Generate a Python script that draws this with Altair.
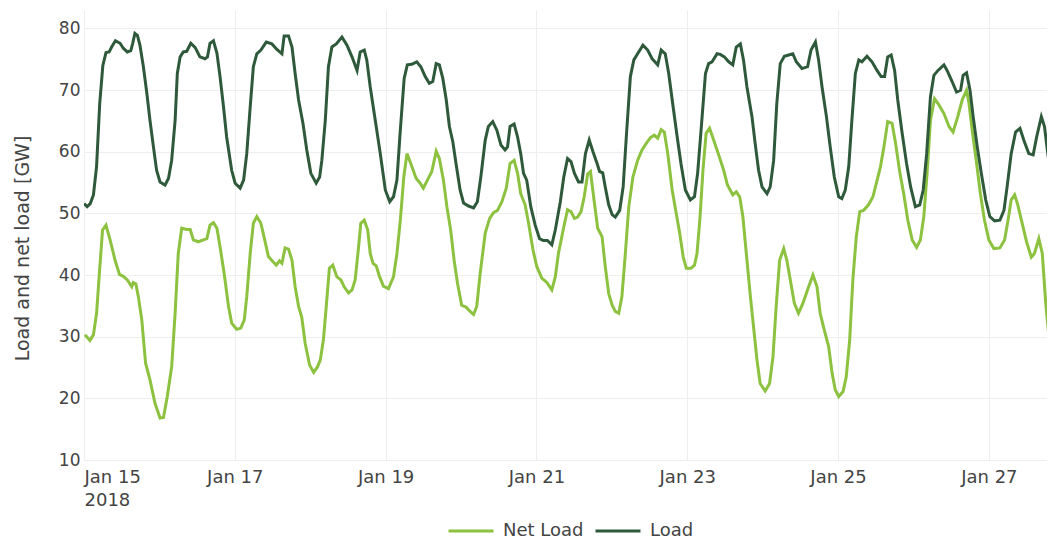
import altair as alt
import pandas as pd

# Hours since 2018-01-15 00:00 (UTC) and values in GW
load_hours = [0, 1, 2, 3, 4, 5, 6, 7, 8, 8.8, 10, 11.5, 12.5, 13.8, 14.9, 15.5, 16.2, 17, 17.8, 18.9,
              20, 21, 22.1, 23.1, 24.2, 25.8, 26.9, 27.9, 29, 29.7, 30.6, 31.6, 32.7, 34, 35.4, 36.9,
              38.5, 39.3, 40.1, 41.2, 42.3, 43.3, 44.4, 45.4, 47, 48.1,
              49.7, 50.8, 51.8, 52.9, 53.9, 55, 56.3, 58, 59.8, 61.4, 63, 63.7, 65.1, 66.2, 67.2, 68.3,
              69.7, 70.9, 72.2, 73.9, 75, 75.7, 76.8, 77.8, 78.9, 80.3, 82.1, 83.7, 85.3, 86.9, 87.9,
              89.2, 90, 91.1, 92.7, 94.3, 95.9, 97.3, 98.5, 99.6,
              100.6, 101.9, 102.9, 104.3, 105.9, 107.2, 108.6, 109.9, 111, 112.1, 113.1, 114.2, 115.3,
              116.3, 117.4, 118.4, 119.7, 120.8, 122.4, 124, 125.2, 126.3, 127.7, 128.7, 130.1, 131.4,
              132.7, 134, 134.8, 135.6, 136.9, 138, 139, 139.9, 140.9, 142.2, 143.6, 145, 146.2, 147.5,
              148.9, 150,
              151.6, 152.7, 153.9, 155, 156.1, 157.4, 158.5, 159.6, 160.8, 162, 163.3, 164.1, 165.1,
              165.9, 167, 168.1, 169.1, 170.5, 171.6, 172.6, 173.9, 175, 176.2, 177.9, 179.4, 180.8,
              182.6, 183.7, 185, 186.1, 187.5, 188.8, 190, 191.4, 193, 194.3, 195.3, 196.4, 197.8,
              198.8, 199.9, 201.5,
              202.5, 203.8, 205.2, 206.5, 207.6, 208.9, 209.9, 211, 212.6, 213.6, 214.7, 215.8, 217.4,
              218.4, 219.5, 220.5, 221.6, 222.9, 224.3, 225.6, 226.7, 228.5, 230.3, 231.4, 232.8,
              233.8, 234.9, 236.3, 237.5, 238.8, 240.2, 241.2, 242.3, 243.4, 244.4, 245.5, 246.6,
              247.6, 249.2, 250.8, 252.4,
              253.7, 254.8, 255.8, 256.9, 258, 259, 260.4, 261.8, 263.1, 264.6, 266, 267.1, 268.2,
              269.4, 270.5, 271.8, 273.7, 274.7, 276.3, 277.7, 279, 279.8, 280.9, 282, 283, 284.3,
              285.6, 287, 288.3, 289.8, 291.5, 292.8, 293.8, 295.1, 296.5, 297.9, 299.1, 300.7, 302.1,
              303.2, 304.7, 305.7, 306.6, 307.6, 309.2]
load_values = [51.6, 51.1, 51.6, 53, 57.6, 67.8, 74, 76.1, 76.2, 77, 78, 77.6, 76.8, 76.2, 76.4, 77.6,
               79.2, 78.9, 77.3, 73.8, 69.5, 65.1, 60.8, 57, 55.1, 54.6, 55.7, 58.6, 65.1, 72.7, 75.4,
               76.2, 76.3, 77.6, 76.9, 75.4, 75.1, 75.4, 77.6, 78, 76, 72.2, 67.3, 62.4, 57, 54.9,
               54.1, 55.4, 59.7, 67.3, 73.8, 75.9, 76.5, 77.8, 77.5, 76.6, 75.9, 78.8, 78.8, 77, 72.7,
               68.4, 64.6, 60.3, 56.5, 54.9, 55.9, 58.6, 65.1, 73.8, 77, 77.5, 78.6, 77.3, 75.4, 73.2,
               76.2, 76.5, 74.9, 70.5, 65.1, 59.7, 53.8, 51.9, 52.7, 55.4,
               63, 71.9, 74.1, 74.2, 74.6, 73.8, 72.2, 71.1, 71.4, 74.3, 74.1, 71.9, 68.4, 64.1, 61.6,
               58.1, 53.8, 51.7, 51.2, 50.9, 51.9, 55.9, 61.9, 64.1, 64.9, 63.5, 61.1, 60.3, 60.8,
               64.1, 64.5, 62.4, 59.7, 56.5, 55.4, 51.1, 48.1, 45.9, 45.6, 45.6, 44.9, 47.3,
               51.9, 55.9, 58.9, 58.4, 56.5, 55.1, 55.1, 59.7, 61.9, 60, 58.1, 56.8, 56.6, 54.3, 51.4,
               49.8, 49.4, 50.5, 54.3, 62.4, 72.2, 74.9, 75.9, 77.3, 76.5, 75.1, 74.1, 76.5, 75.9,
               72.7, 67.3, 62.4, 58.1, 53.8, 52.2, 52.7, 56.5, 63.5, 72.7, 74.3, 74.6, 75.9,
               75.8, 75.4, 74.6, 74.1, 77, 77.5, 74.9, 70.5, 65.7, 61.4, 57, 54.3, 53.2, 54.3, 58.6,
               67.8, 74.3, 75.5, 75.7, 75.9, 74.6, 73.5, 73.8, 76.5, 77.8, 74.9, 70.5, 65.7, 60.8,
               55.9, 52.7, 52.4, 53.8, 57.6, 65.1, 72.7, 74.9, 74.6, 75.5, 74.6, 73.2,
               72.2, 72.2, 75.4, 75.7, 73.2, 68.4, 63, 58.1, 54.3, 51.1, 51.4, 53.8, 59.7, 68.9, 72.4,
               73.2, 74.1, 73.2, 71.4, 69.7, 70, 72.4, 72.8, 70, 65.7, 60.8, 56.5, 52.2, 49.5, 48.8,
               48.9, 50.5, 54.3, 59.7, 63.2, 63.8, 61.9, 59.7, 59.5, 62.4, 65.7, 64.1, 60.3, 56.5, 54.3]

net_hours = [0.3, 1.9, 3, 4, 4.9, 5.9, 7, 8.3, 9.9, 11.3, 12.5, 13.8, 15.2, 15.7, 16.5, 17.3, 18.4,
             19.6, 21, 22.6, 24.2, 25.3, 26.5, 27.9, 29, 30, 31.1, 32.7, 33.8, 34.8, 36.4, 38, 39.1,
             40.1, 41.2, 42.3, 43.3, 44.6, 46, 47, 48.6,
             49.9, 51, 51.8, 52.9, 53.9, 55, 56.3, 57.3, 58.7, 60.1, 61.2, 62.2, 63, 64, 65.1, 66.2,
             67.2, 68.3, 69.3, 70.4, 71.8, 73.1, 74.3, 75.2, 76.2, 77.1, 78.1, 79.2, 80.5, 81.8, 82.8,
             84.2, 85.3, 86.3, 87.4, 88.1, 89.2, 90.3, 91.1, 92, 93, 94.1, 95.3, 96.9, 98.5, 99.6,
             100.7, 101.8, 102.8, 104, 105.7, 107, 108, 109.3, 110.7, 112.1, 113.1, 114.4, 115.5,
             116.7, 117.8, 118.9, 120.2, 121.6, 122.9, 124, 125, 126.1, 127.7, 129.1, 130.3, 131.6,
             133, 134.4, 135.6, 136.9, 138, 139, 140.4, 141.5, 142.9, 144.1, 145.7, 147.3, 148.9,
             150, 151,
             152.7, 153.9, 155, 156.1, 157.1, 158.2, 159.2, 160.3, 161.2, 162.2, 163.5, 164.9, 165.9,
             167, 168.1, 169.1, 170.2, 171.2, 172.3, 173.4, 174.7, 176.2, 177.6, 179, 180.3, 181.5,
             182.6, 183.7, 184.7, 185.8, 187.2, 188.5, 189.6, 190.7, 191.7, 193.2, 194.3, 195.1, 196,
             197, 198, 199.1, 200.4, 202,
             203.6, 204.8, 206.5, 207.6, 208.7, 209.7, 210.8, 212.1, 213.1, 214.2, 215.2, 216.8,
             218.2, 219.3, 220.3, 221.4, 222.7, 223.7, 224.8, 226.1, 227.4, 228.8, 230.3, 232, 233.3,
             234.3, 235.6, 237, 238.1, 239.1, 240.2, 241.6, 242.6, 243.7, 244.7, 245.8, 246.9, 248.1,
             249.7, 251.1, 252.2,
             253.5, 254.6, 255.8, 257.2, 258.3, 259.7, 260.9, 262.2, 263.6, 265, 266.2, 267.3, 268.4,
             269.4, 270.7, 272.1, 273.7, 275.3, 276.6, 278.1, 279.5, 280.9, 281.6, 282.7, 284.1,
             285.3, 286.6, 288, 289.6, 291.5, 293, 294.1, 295.1, 296.2, 297.2, 298.6, 300, 301.5,
             302.5, 303.9, 305, 306.1, 307.1, 307.9, 309.2]
net_values = [30.3, 29.4, 30.3, 33.8, 40.3, 47.3, 48.1, 45.7, 42.4, 40.1, 39.8, 39.2, 38.1, 38.8, 38.6,
              36.5, 32.7, 25.7, 23, 19.2, 16.8, 16.9, 20.3, 25.1, 33.8, 43.5, 47.6, 47.4, 47.4, 45.7,
              45.4, 45.7, 45.9, 48.1, 48.5, 47.6, 44.6, 40.3, 34.9, 32.2, 31.2,
              31.4, 32.7, 36.5, 43.5, 48.4, 49.5, 48.4, 46.2, 43, 42.2, 41.6, 42.3, 41.9, 44.4, 44.2,
              42.4, 38.1, 34.9, 33.2, 28.9, 25.4, 24.2, 25.1, 26.2, 29.5, 34.9, 41.1, 41.6, 39.7, 39.2,
              38.1, 37.1, 37.6, 39.2, 44.6, 48.4, 48.9, 47.3, 43.5, 41.9, 41.5, 39.7, 38.2, 37.8,
              39.7, 43.5,
              49, 56, 59.7, 58.1, 55.7, 54.9, 54.1, 55.4, 56.8, 60.1, 58.9, 55.4, 51.1, 47.3, 42.4,
              38.6, 35.1, 34.8, 34.1, 33.6, 34.9, 40.3, 46.8, 49.2, 50.1, 50.5, 51.9, 54.1, 58.1,
              58.6, 56.5, 53.2, 51.4, 48.4, 44.1, 41.4, 39.5, 38.8, 37.6, 39.7, 43.5,
              47.8, 50.6, 50.3, 49.2, 49.4, 50.3, 52.7, 56.4, 56.8, 52.7, 47.6, 46.2, 41.4, 37, 35.1,
              34.1, 33.8, 36.5, 43.5, 51.1, 55.9, 58.6, 60.3, 61.4, 62.3, 62.7, 62.2, 63.6, 63.2,
              59.7, 53.8, 50, 46.8, 43, 41.1, 41.1, 41.6, 43.5, 48.9, 57, 63, 63.8, 61.9, 59.5,
              57, 54.6, 53, 53.5, 52.7, 49.5, 43.5, 36.5, 31.6, 26.2, 22.4, 21.2, 22.4, 26.8, 34.9,
              42.4, 44.3, 42.4, 39.2, 35.4, 33.8, 35.4, 37.6, 40, 38.1, 33.8, 31.1, 28.4, 24.1, 21.4,
              20.3, 21.1, 23.5, 29.5, 39.2, 46.2, 50.3, 50.5, 51.4, 52.7, 54.9,
              57.6, 60.8, 64.9, 64.6, 61.4, 56.5, 53.2, 48.9, 45.7, 44.5, 45.7, 49.5, 57, 65.1, 68.6,
              67.6, 66.2, 64.1, 63.2, 65.7, 68.4, 70, 68.1, 63.5, 58.1, 53.2, 48.9, 45.7, 44.3, 44.4,
              45.7, 48.9, 52.2, 53, 51.4, 48.4, 45.4, 42.9, 43.5, 45.9, 43.5, 35.4, 30, 25.1, 20.3]

series_names = ["Net Load", "Load"]
series_colors = ["#8cc23f", "#2e5a3b"]
tick_days = [15, 17, 19, 21, 23, 25, 27]

base = pd.Timestamp("2018-01-15T00:00:00Z")


def to_iso(hours):
    return [(base + pd.to_timedelta(h, unit="h")).strftime("%Y-%m-%dT%H:%M:%SZ") for h in hours]


df = pd.concat([
    pd.DataFrame({"time": to_iso(net_hours), "value": net_values, "series": "Net Load", "order": 0}),
    pd.DataFrame({"time": to_iso(load_hours), "value": load_values, "series": "Load", "order": 1}),
], ignore_index=True)

font = "DejaVu Sans"
txt = "#444444"

x_axis = alt.Axis(
    values=[alt.DateTime(year=2018, month=1, date=d, utc=True) for d in tick_days],
    labelExpr="utcdate(datum.value) == 15 ? [utcFormat(datum.value, '%b %d'), '2018'] : utcFormat(datum.value, '%b %d')",
    grid=True, gridColor="#eeeeee", gridWidth=1,
    ticks=False, domain=False, labelPadding=8,
    labelFont=font, labelFontSize=18, labelColor=txt, labelLineHeight=23,
    title=None, labelBaseline="top",
)
y_axis = alt.Axis(
    values=[10, 20, 30, 40, 50, 60, 70, 80],
    grid=True, gridColor="#eeeeee", gridWidth=1,
    ticks=False, domain=False, labelPadding=4,
    labelFont=font, labelFontSize=17, labelColor=txt,
    title="Load and net load [GW]", titleFont=font, titleFontSize=19, titleFontWeight="normal",
    titleColor=txt, titleX=-62, titleY=238, titleAngle=270, titleAlign="center", titleBaseline="middle",
)

chart = alt.Chart(df).mark_line(strokeWidth=3, clip=True).encode(
    x=alt.X("time:T", axis=x_axis,
            scale=alt.Scale(type="utc",
                            domain=[alt.DateTime(year=2018, month=1, date=15, utc=True),
                                    alt.DateTime(year=2018, month=1, date=27, hours=18, minutes=30, utc=True)],
                            nice=False)),
    y=alt.Y("value:Q", axis=y_axis, scale=alt.Scale(domain=[10, 83], nice=False, zero=False)),
    color=alt.Color("series:N",
                    scale=alt.Scale(domain=series_names, range=series_colors),
                    legend=alt.Legend(title=None, orient="none", direction="horizontal",
                                      legendX=363, legendY=497,
                                      symbolType="stroke", symbolSize=2025, symbolStrokeWidth=3,
                                      labelFont=font, labelFontSize=18, labelColor=txt,
                                      labelOffset=8, columnPadding=5)),
    order=alt.Order("order:Q"),
    detail="series:N",
).properties(
    width=963, height=450,
    padding={"left": 76, "top": 2, "right": 0, "bottom": 79},
    autosize=alt.AutoSizeParams(type="none"),
    background="white",
).configure_view(stroke=None)

chart.save("out.html", embed_options={"renderer": "svg", "actions": False})
